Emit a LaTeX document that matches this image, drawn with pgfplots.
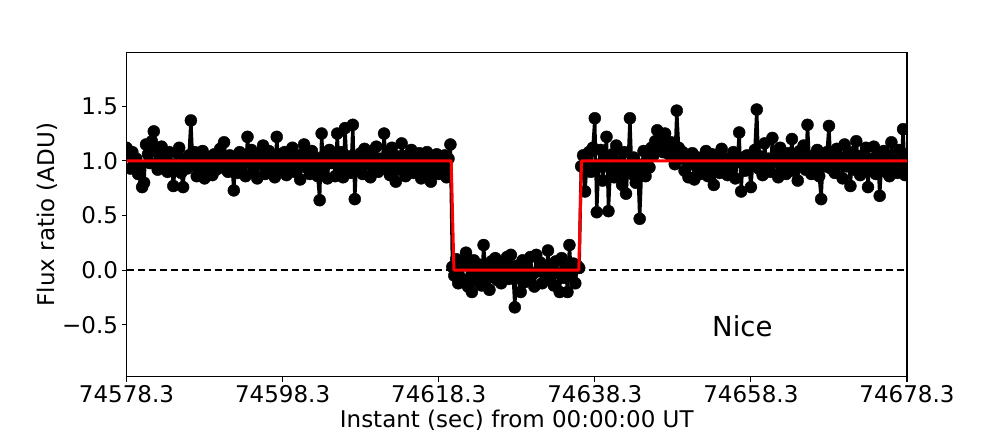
\documentclass[border=0pt]{standalone}
\usepackage{fontspec}
\setmainfont{DejaVu Sans}
\usepackage{pgfplots}
\pgfplotsset{compat=1.18}
\begin{document}
\begin{tikzpicture}
\useasboundingbox[fill=white] (0,0) rectangle (1008pt,432pt);
\begin{axis}[
  at={(126.5pt,55.3pt)}, anchor=south west,
  scale only axis, width=780.5pt, height=324pt,
  xmin=0, xmax=100, ymin=-0.975, ymax=1.99,
  clip mode=individual, clip marker paths=true,
  xtick={0,20,40,60,80,100},
  xticklabels={74578.3,74598.3,74618.3,74638.3,74658.3,74678.3},
  ytick={-0.5,0,0.5,1,1.5},
  yticklabels={−0.5,0.0,0.5,1.0,1.5},
  tick align=outside, tick pos=left, major tick length=4.9pt,
  every tick/.style={black, line width=1.1pt},
  axis line style={line width=1.1pt},
  tick label style={font=\fontsize{23}{27}\selectfont},
  label style={font=\fontsize{23}{27}\selectfont},
  xlabel={Instant (sec) from 00:00:00 UT},
  ylabel={Flux ratio (ADU)},
  xlabel style={at={(axis description cs:0.5,-0.133)}, anchor=center},
  ylabel style={at={(axis description cs:-0.1012,0.5)}, anchor=center},
]
\addplot[black, line width=1.5pt, dash pattern=on 7.7pt off 3.3pt, forget plot] coordinates {(0,0) (100,0)};
\addplot[black, line width=3.2pt, line join=round, mark=*, mark size=6pt, mark options={solid, fill=black, line width=0.4pt}] coordinates {
(0,1.12)(0.25,1.05)(0.5,0.93)(0.75,1.08)(1,0.97)(1.25,1.02)(1.5,0.88)(1.75,0.95)(2,0.76)(2.25,0.80)(2.5,1.15)(2.75,1.06)(3,0.98)(3.25,1.18)(3.5,1.27)(3.75,1.10)(4,0.92)(4.25,1.04)(4.5,1.13)(4.75,0.99)
(5,1.03)(5.25,0.90)(5.5,1.08)(5.75,0.97)(6,0.77)(6.25,0.94)(6.5,1.07)(6.75,1.12)(7,0.89)(7.25,0.76)(7.5,1.01)(7.75,0.93)(8,1.05)(8.25,1.37)(8.5,0.96)(8.75,1.08)(9,0.86)(9.25,1.02)(9.5,0.91)(9.75,1.09)
(10,0.84)(10.25,1.04)(10.5,0.95)(10.75,1.01)(11,0.87)(11.25,1.06)(11.5,0.92)(11.75,0.98)(12,1.11)(12.25,0.94)(12.5,1.17)(12.75,1.00)(13,0.90)(13.25,1.05)(13.5,0.96)(13.75,0.73)(14,1.02)(14.25,0.89)(14.5,1.08)(14.75,0.95)
(15,1.04)(15.25,0.86)(15.5,1.22)(15.75,0.99)(16,1.10)(16.25,0.91)(16.5,1.03)(16.75,0.84)(17,1.07)(17.25,0.97)(17.5,1.14)(17.75,0.88)(18,1.01)(18.25,1.09)(18.5,0.93)(18.75,1.05)(19,0.85)(19.25,1.22)(19.5,0.98)(19.75,1.06)
(20,0.92)(20.25,1.08)(20.5,0.87)(20.75,1.02)(21,0.95)(21.25,1.12)(21.5,0.90)(21.75,1.04)(22,0.97)(22.25,0.83)(22.5,1.06)(22.75,1.15)(23,0.94)(23.25,1.01)(23.5,0.88)(23.75,1.09)(24,0.96)(24.25,1.03)(24.5,0.86)(24.75,0.64)
(25,1.25)(25.25,0.93)(25.5,1.07)(25.75,0.84)(26,1.10)(26.25,0.98)(26.5,1.05)(26.75,0.86)(27,1.25)(27.25,0.92)(27.5,1.08)(27.75,0.85)(28,1.30)(28.25,0.96)(28.5,1.04)(28.75,0.89)(29,1.33)(29.25,0.65)(29.5,1.02)(29.75,0.94)
(30,1.07)(30.25,0.88)(30.5,1.11)(30.75,0.97)(31,1.03)(31.25,0.85)(31.5,1.09)(31.75,0.95)(32,1.13)(32.25,0.90)(32.5,1.02)(32.75,0.93)(33,1.25)(33.25,0.99)(33.5,1.06)(33.75,0.87)(34,1.12)(34.25,0.96)(34.5,0.81)(34.75,1.04)
(35,0.92)(35.25,1.16)(35.5,0.98)(35.75,0.86)(36,1.05)(36.25,0.94)(36.5,1.10)(36.75,0.89)(37,1.01)(37.25,0.96)(37.5,1.07)(37.75,0.84)(38,1.03)(38.25,0.97)(38.5,1.08)(38.75,0.90)(39,0.81)(39.25,1.02)(39.5,0.95)(39.75,1.06)
(40,0.88)(40.25,1.04)(40.5,0.93)(40.75,1.05)(41,0.85)(41.25,1.02)(41.5,1.15)(41.75,0.03)(42,-0.05)(42.25,0.10)(42.5,-0.12)(42.75,0.04)(43,-0.08)(43.25,0.07)(43.5,0.16)(43.75,-0.15)(44,0.06)(44.25,-0.20)(44.5,0.09)(44.75,-0.03)
(45,-0.10)(45.25,0.05)(45.5,-0.14)(45.75,0.23)(46,0.01)(46.25,-0.07)(46.5,-0.18)(46.75,0.08)(47,-0.02)(47.25,0.11)(47.5,-0.09)(47.75,0.03)(48,-0.12)(48.25,0.06)(48.5,-0.05)(48.75,0.12)(49,-0.08)(49.25,0.14)(49.5,0.00)(49.75,-0.34)
(50,0.04)(50.25,-0.06)(50.5,-0.20)(50.75,0.09)(51,-0.11)(51.25,0.02)(51.5,-0.08)(51.75,0.12)(52,-0.04)(52.25,-0.15)(52.5,0.14)(52.75,-0.01)(53,0.07)(53.25,-0.12)(53.5,0.03)(53.75,-0.06)(54,0.18)(54.25,-0.09)(54.5,0.05)(54.75,-0.14)
(55,0.08)(55.25,-0.03)(55.5,-0.20)(55.75,0.11)(56,-0.07)(56.25,0.02)(56.5,-0.20)(56.75,0.23)(57,-0.05)(57.25,0.06)(57.5,-0.12)(57.75,0.04)(58,0.02)(58.25,0.95)(58.5,1.05)(58.75,0.72)(59,0.98)(59.25,1.08)(59.5,0.90)(59.75,1.12)
(60,1.39)(60.25,0.53)(60.5,0.96)(60.75,1.10)(61,0.82)(61.25,1.02)(61.5,1.22)(61.75,0.54)(62,0.93)(62.25,1.06)(62.5,0.85)(62.75,1.14)(63,0.91)(63.25,0.99)(63.5,0.78)(63.75,1.08)(64,0.70)(64.25,0.95)(64.5,1.39)(64.75,0.88)
(65,1.03)(65.25,0.80)(65.5,0.97)(65.75,0.47)(66,0.92)(66.25,1.09)(66.5,0.86)(66.75,1.01)(67,0.94)(67.25,1.12)(67.5,1.05)(67.75,1.18)(68,1.28)(68.25,1.10)(68.5,1.20)(68.75,1.08)(69,1.25)(69.25,1.13)(69.5,1.06)(69.75,1.17)
(70,1.04)(70.25,0.97)(70.5,1.46)(70.75,1.12)(71,1.02)(71.25,1.08)(71.5,0.91)(71.75,1.05)(72,0.85)(72.25,0.98)(72.5,1.07)(72.75,0.83)(73,0.95)(73.25,1.03)(73.5,0.88)(73.75,1.01)(74,0.93)(74.25,1.09)(74.5,0.86)(74.75,0.97)
(75,1.06)(75.25,0.78)(75.5,0.94)(75.75,1.04)(76,0.89)(76.25,1.11)(76.5,0.96)(76.75,1.02)(77,0.87)(77.25,1.00)(77.5,0.92)(77.75,1.08)(78,0.84)(78.25,0.99)(78.5,1.26)(78.75,0.72)(79,1.03)(79.25,0.91)(79.5,1.05)(79.75,0.95)
(80,0.76)(80.25,0.98)(80.5,1.10)(80.75,1.47)(81,0.93)(81.25,1.04)(81.5,0.87)(81.75,1.16)(82,0.97)(82.25,1.02)(82.5,0.90)(82.75,1.21)(83,0.99)(83.25,1.06)(83.5,0.85)(83.75,1.12)(84,0.94)(84.25,1.01)(84.5,0.88)(84.75,1.07)
(85,0.96)(85.25,1.20)(85.5,0.91)(85.75,1.03)(86,0.82)(86.25,1.09)(86.5,0.97)(86.75,1.14)(87,0.92)(87.25,1.33)(87.5,1.00)(87.75,0.88)(88,1.05)(88.25,0.94)(88.5,1.10)(88.75,0.86)(89,0.65)(89.25,1.02)(89.5,0.95)(89.75,1.08)
(90,1.32)(90.25,0.93)(90.5,1.06)(90.75,0.89)(91,1.11)(91.25,0.97)(91.5,1.03)(91.75,0.84)(92,1.15)(92.25,0.95)(92.5,1.01)(92.75,0.77)(93,1.08)(93.25,0.92)(93.5,1.18)(93.75,0.99)(94,0.87)(94.25,1.05)(94.5,0.94)(94.75,1.12)
(95,0.76)(95.25,1.02)(95.5,0.93)(95.75,1.13)(96,0.88)(96.25,1.05)(96.5,0.68)(96.75,0.97)(97,1.09)(97.25,0.90)(97.5,1.04)(97.75,0.86)(98,1.17)(98.25,0.95)(98.5,1.01)(98.75,0.89)(99,1.10)(99.25,0.94)(99.5,1.29)(99.75,0.87)(100,1.06)
};
\addplot[red, line width=3pt, line join=round] coordinates {(0,1) (41.6,1) (41.95,0) (57.95,0) (58.3,1) (100,1)};
\node at (axis cs:78.9,-0.513) {\fontsize{27.5}{32}\selectfont Nice};
\end{axis}
\end{tikzpicture}
\end{document}
